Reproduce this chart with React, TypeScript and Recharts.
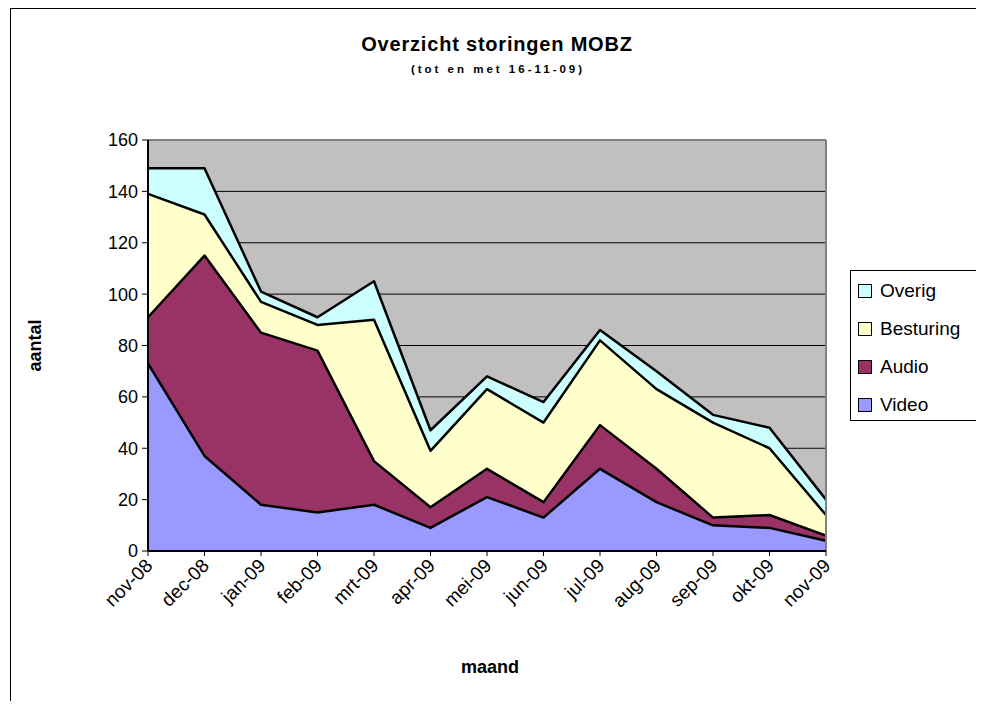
import React from "react";
import {
  AreaChart,
  Area,
  XAxis,
  YAxis,
  CartesianGrid,
  ReferenceLine,
} from "recharts";

const months = [
  "nov-08", "dec-08", "jan-09", "feb-09", "mrt-09", "apr-09", "mei-09",
  "jun-09", "jul-09", "aug-09", "sep-09", "okt-09", "nov-09",
];
const video = [73, 37, 18, 15, 18, 9, 21, 13, 32, 19, 10, 9, 4];
const audio = [18, 78, 67, 63, 17, 8, 11, 6, 17, 13, 3, 5, 2];
const besturing = [48, 16, 12, 10, 55, 22, 31, 31, 33, 31, 37, 26, 8];
const overig = [10, 18, 4, 3, 15, 8, 5, 8, 4, 7, 3, 8, 6];
const yTicks = [0, 20, 40, 60, 80, 100, 120, 140, 160];

const series = [
  { key: "Video", color: "#9999FF" },
  { key: "Audio", color: "#993366" },
  { key: "Besturing", color: "#FFFFCC" },
  { key: "Overig", color: "#CCFFFF" },
];

const data = months.map((m, i) => ({
  month: m,
  Video: video[i],
  Audio: audio[i],
  Besturing: besturing[i],
  Overig: overig[i],
}));

const FONT = "Arial, 'Liberation Sans', sans-serif";

function XTick({ x, y, payload }: { x?: number; y?: number; payload?: { value: string } }) {
  return (
    <g transform={`translate(${x! + 1},${y! + 6})`}>
      <text
        x={0}
        y={0}
        dy="0.35em"
        transform="rotate(-45)"
        textAnchor="end"
        fontSize={19}
        fontFamily={FONT}
        fill="#000"
      >
        {payload!.value}
      </text>
    </g>
  );
}

export default function App() {
  return (
    <div style={{ position: "relative", width: 968, height: 693, fontFamily: FONT }}>
      <style>{`body{overflow:hidden}`}</style>
      <div
        style={{
          position: "absolute",
          left: 2,
          top: 0,
          width: 980,
          height: 698,
          borderLeft: "1.5px solid #000",
          borderTop: "1.5px solid #000",
          boxSizing: "border-box",
        }}
      />
      {/* titel */}
      <div
        style={{
          position: "absolute",
          left: 0,
          width: 978,
          top: 25,
          textAlign: "center",
          fontWeight: "bold",
          fontSize: 20,
          letterSpacing: 0.8,
        }}
      >
        Overzicht storingen MOBZ
      </div>
      <div
        style={{
          position: "absolute",
          left: 0,
          width: 980,
          top: 55,
          textAlign: "center",
          fontWeight: "bold",
          fontSize: 11.5,
          letterSpacing: 3,
        }}
      >
        (tot en met 16-11-09)
      </div>
      <div
        style={{
          position: "absolute",
          left: 27 - 40,
          top: 337 - 10,
          width: 80,
          textAlign: "center",
          fontWeight: "bold",
          fontSize: 18,
          transform: "rotate(-90deg)",
        }}
      >
        aantal
      </div>
      <div
        style={{
          position: "absolute",
          left: 482 - 50,
          top: 649,
          width: 100,
          textAlign: "center",
          fontWeight: "bold",
          fontSize: 18,
        }}
      >
        maand
      </div>

      <div style={{ position: "absolute", left: 0, top: 0 }}>
        <AreaChart
          width={960}
          height={690}
          data={data}
          margin={{ top: 132, right: 142, bottom: 47, left: 80 }}
        >
          <CartesianGrid vertical={false} stroke="#000" fill="#C0C0C0" />
          <ReferenceLine y={160} stroke="#808080" strokeWidth={2} />
          <ReferenceLine x="nov-09" stroke="#808080" strokeWidth={2} />
          <XAxis
            dataKey="month"
            interval={0}
            padding={{ left: 0, right: 0 }}
            height={100}
            tickSize={5}
            tickMargin={0}
            tick={<XTick />}
            tickLine={{ stroke: "#000" }}
            axisLine={{ stroke: "#000", strokeWidth: 2 }}
          />
          <YAxis
            width={60}
            domain={[0, 160]}
            ticks={yTicks}
            interval={0}
            tickSize={6}
            tickMargin={4}
            tick={{ fontSize: 18, fill: "#000", fontFamily: FONT }}
            tickLine={{ stroke: "#000" }}
            axisLine={{ stroke: "#000", strokeWidth: 2 }}
          />
          {/* vlakken */}
          {series.map((s) => (
            <Area
              key={s.key}
              type="linear"
              dataKey={s.key}
              stackId="fill"
              stroke="none"
              fill={s.color}
              fillOpacity={1}
              dot={false}
              activeDot={false}
              isAnimationActive={false}
            />
          ))}
          {/* zwarte randen erover */}
          {series.map((s) => (
            <Area
              key={s.key + "-rand"}
              type="linear"
              dataKey={s.key}
              stackId="rand"
              stroke="#000"
              strokeWidth={2.5}
              strokeLinejoin="round"
              fill="none"
              dot={false}
              activeDot={false}
              legendType="none"
              isAnimationActive={false}
            />
          ))}
        </AreaChart>
      </div>

      {/* legenda */}
      <div
        style={{
          position: "absolute",
          left: 842,
          top: 262,
          width: 127,
          height: 151,
          border: "1px solid #000",
          background: "#fff",
          boxSizing: "border-box",
        }}
      >
        {[...series].reverse().map((s, i) => (
          <div
            key={s.key}
            style={{
              position: "absolute",
              left: 7,
              top: 9 + i * 38,
              display: "flex",
              alignItems: "center",
              fontSize: 19,
              height: 22,
            }}
          >
            <span
              style={{
                display: "inline-block",
                width: 12,
                height: 12,
                border: "1.5px solid #000",
                background: s.color,
                marginRight: 8,
              }}
            />
            {s.key}
          </div>
        ))}
      </div>
    </div>
  );
}
